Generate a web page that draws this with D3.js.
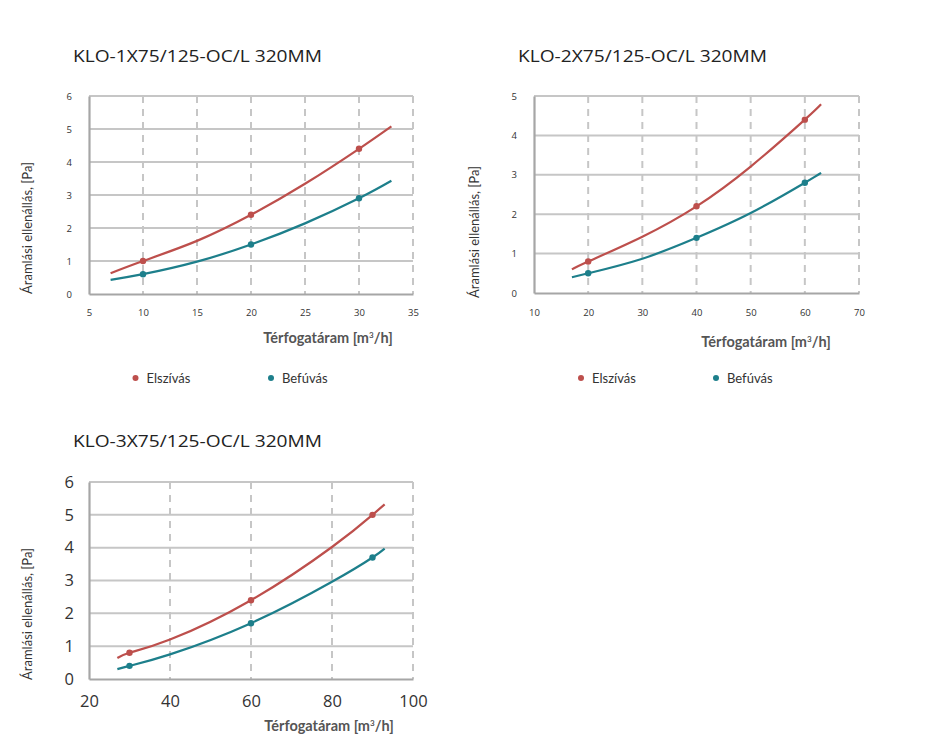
<!DOCTYPE html>
<html>
<head>
<meta charset="utf-8">
<script src="https://cdnjs.cloudflare.com/ajax/libs/d3/7.8.5/d3.min.js"></script>
<style>
  body { margin: 0; background: #fff; }
  svg { display: block; }
  .title { font-family: "Open Sans", sans-serif; fill: #222; }
  .tick text { font-family: "Open Sans", sans-serif; fill: #333; }
  .axis-title { font-family: "Lato", sans-serif; fill: #555; font-weight: bold; }
  .y-title { font-family: "Lato", sans-serif; fill: #333; }
  .legend text { font-family: "Lato", sans-serif; fill: #333; }
</style>
</head>
<body>
<svg width="947" height="737"></svg>
<script>
// chart titles
var titles = ["KLO-1X75/125-OC/L 320MM", "KLO-2X75/125-OC/L 320MM", "KLO-3X75/125-OC/L 320MM"];
var seriesNames = ["Elszívás", "Befúvás"];
var colors = ["#bd4f4c", "#1d7f8b"];

// chart 1
var c1X = [7, 10, 15, 20, 25, 30, 33];
var c1Elsz = [0.63, 1.0, 1.61, 2.4, 3.34, 4.4, 5.08];
var c1Bef = [0.43, 0.6, 0.98, 1.5, 2.14, 2.9, 3.43];
var c1MarkX = [10, 20, 30];
var c1MarkElsz = [1.0, 2.4, 4.4];
var c1MarkBef = [0.6, 1.5, 2.9];
var c1XTicks = [5, 10, 15, 20, 25, 30, 35];
var c1YTicks = [0, 1, 2, 3, 4, 5, 6];

// chart 2
var c2X = [17, 20, 30, 40, 50, 60, 63];
var c2Elsz = [0.6, 0.8, 1.43, 2.2, 3.21, 4.4, 4.79];
var c2Bef = [0.4, 0.5, 0.87, 1.4, 2.03, 2.8, 3.05];
var c2MarkX = [20, 40, 60];
var c2MarkElsz = [0.8, 2.2, 4.4];
var c2MarkBef = [0.5, 1.4, 2.8];
var c2XTicks = [10, 20, 30, 40, 50, 60, 70];
var c2YTicks = [0, 1, 2, 3, 4, 5];

// chart 3
var c3X = [27, 30, 40, 60, 80, 90, 93];
var c3Elsz = [0.64, 0.8, 1.2, 2.4, 4.02, 5.0, 5.32];
var c3Bef = [0.3, 0.4, 0.75, 1.7, 2.96, 3.7, 3.97];
var c3MarkX = [30, 60, 90];
var c3MarkElsz = [0.8, 2.4, 5.0];
var c3MarkBef = [0.4, 1.7, 3.7];
var c3XTicks = [20, 40, 60, 80, 100];
var c3YTicks = [0, 1, 2, 3, 4, 5, 6];

var svg = d3.select("svg");

function drawChart(cfg){
  var g = svg.append("g");
  var x = d3.scaleLinear().domain(cfg.xDomain).range([cfg.left, cfg.right]);
  var y = d3.scaleLinear().domain(cfg.yDomain).range([cfg.bottom, cfg.top]);

  g.append("text").attr("class", "title")
    .attr("x", cfg.titleX).attr("y", cfg.titleY)
    .attr("textLength", 249).attr("lengthAdjust", "spacingAndGlyphs")
    .style("font-size", "17px").text(cfg.title);

  // horizontal grid (solid)
  g.selectAll(".hg").data(cfg.yTicks.slice(1)).enter().append("line")
    .attr("x1", cfg.left).attr("x2", cfg.right)
    .attr("y1", function(d){ return y(d); }).attr("y2", function(d){ return y(d); })
    .attr("stroke", "#c6c6c6").attr("stroke-width", 2);
  // vertical grid (dashed)
  g.selectAll(".vg").data(cfg.xTicks.slice(1)).enter().append("line")
    .attr("y1", cfg.top).attr("y2", cfg.bottom)
    .attr("x1", function(d){ return x(d); }).attr("x2", function(d){ return x(d); })
    .attr("stroke", "#c6c6c6").attr("stroke-width", 2)
    .attr("stroke-dasharray", "7,6");

  var xAxis = g.append("g").attr("transform", "translate(0," + cfg.bottom + ")")
    .call(d3.axisBottom(x).tickValues(cfg.xTicks).tickFormat(d3.format("d"))
      .tickSize(0).tickPadding(cfg.xPad));
  var yAxis = g.append("g").attr("transform", "translate(" + cfg.left + ",0)")
    .call(d3.axisLeft(y).tickValues(cfg.yTicks).tickFormat(d3.format("d"))
      .tickSize(0).tickPadding(cfg.yPad));
  [xAxis, yAxis].forEach(function(a){
    a.select(".domain").attr("stroke", "#a6a6a6").attr("stroke-width", 2.2);
    a.selectAll(".tick text").style("font-size", cfg.tickSize + "px");
  });

  // axis titles
  var xt = g.append("text").attr("class", "axis-title")
    .attr("x", cfg.xTitleX).attr("y", cfg.xTitleY).attr("text-anchor", "middle")
    .style("font-size", "14.5px");
  xt.append("tspan").text("Térfogatáram [m");
  xt.append("tspan").attr("dy", -5).style("font-size", "8px").text("3");
  xt.append("tspan").attr("dy", 5).text("/h]");

  g.append("text").attr("class", "y-title")
    .attr("transform", "translate(" + cfg.yTitleX + "," + cfg.yTitleY + ") rotate(-90)")
    .attr("text-anchor", "middle").style("font-size", "13px")
    .text("Áramlási ellenállás, [Pa]");

  var line = d3.line()
    .x(function(d){ return x(d[0]); })
    .y(function(d){ return y(d[1]); })
    .curve(d3.curveNatural);

  cfg.series.forEach(function(s, i){
    var pts = cfg.xs.map(function(v, j){ return [v, s[j]]; });
    g.append("path").datum(pts).attr("d", line)
      .attr("fill", "none").attr("stroke", colors[i]).attr("stroke-width", 2.2);
    var mk = cfg.markX.map(function(v, j){ return [v, cfg.marks[i][j]]; });
    g.selectAll(".m" + i).data(mk).enter().append("circle")
      .attr("cx", function(d){ return x(d[0]); })
      .attr("cy", function(d){ return y(d[1]); })
      .attr("r", 3.2).attr("fill", colors[i]);
  });

  if (cfg.legend){
    var lg = g.append("g").attr("class", "legend");
    seriesNames.forEach(function(n, i){
      var lx = cfg.legendX[i];
      lg.append("circle").attr("cx", lx).attr("cy", cfg.legendY).attr("r", 3).attr("fill", colors[i]);
      lg.append("text").attr("x", lx + 11).attr("y", cfg.legendY + 5)
        .style("font-size", "13px").text(n);
    });
  }
}

drawChart({
  title: titles[0], titleX: 73, titleY: 62,
  left: 89, right: 413, top: 96, bottom: 294,
  xDomain: [5, 35], yDomain: [0, 6], xTicks: c1XTicks, yTicks: c1YTicks,
  tickSize: 9.5, xPad: 15, yPad: 17,
  xs: c1X, series: [c1Elsz, c1Bef], markX: c1MarkX, marks: [c1MarkElsz, c1MarkBef],
  xTitleX: 328, xTitleY: 343, yTitleX: 32, yTitleY: 228,
  legend: true, legendX: [135.5, 271], legendY: 378
});

drawChart({
  title: titles[1], titleX: 518, titleY: 62,
  left: 534, right: 859, top: 96, bottom: 293,
  xDomain: [10, 70], yDomain: [0, 5], xTicks: c2XTicks, yTicks: c2YTicks,
  tickSize: 9.5, xPad: 16, yPad: 17,
  xs: c2X, series: [c2Elsz, c2Bef], markX: c2MarkX, marks: [c2MarkElsz, c2MarkBef],
  xTitleX: 766, xTitleY: 347, yTitleX: 479, yTitleY: 232,
  legend: true, legendX: [581, 716], legendY: 378
});

drawChart({
  title: titles[2], titleX: 73, titleY: 447,
  left: 89, right: 413, top: 482, bottom: 679,
  xDomain: [20, 100], yDomain: [0, 6], xTicks: c3XTicks, yTicks: c3YTicks,
  tickSize: 16.5, xPad: 16, yPad: 15,
  xs: c3X, series: [c3Elsz, c3Bef], markX: c3MarkX, marks: [c3MarkElsz, c3MarkBef],
  xTitleX: 329, xTitleY: 731, yTitleX: 32, yTitleY: 614,
  legend: false
});
</script>
</body>
</html>
